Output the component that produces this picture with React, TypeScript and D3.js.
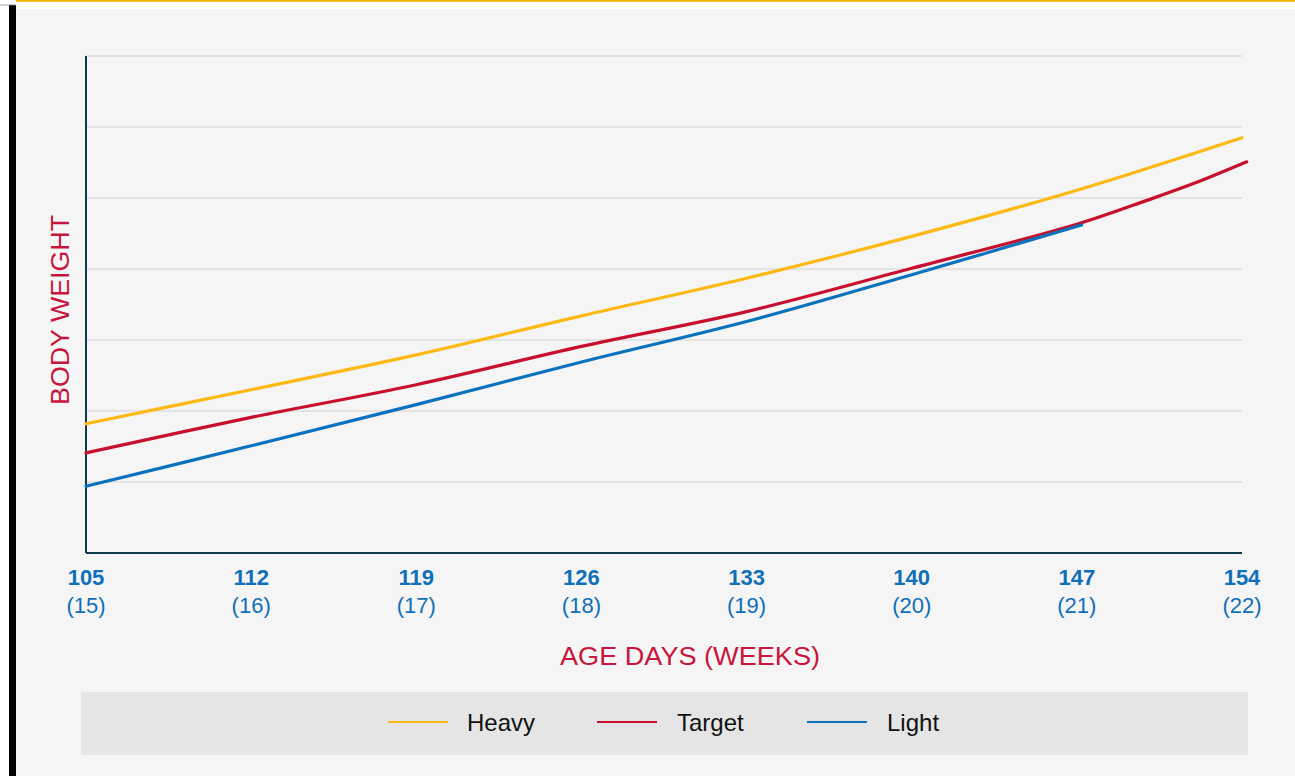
import React from "react";
import * as d3 from "d3";

const dayTicks = [105, 112, 119, 126, 133, 140, 147, 154];
const weekTicks = ["(15)", "(16)", "(17)", "(18)", "(19)", "(20)", "(21)", "(22)"];
const gridLevels = [0, 1, 2, 3, 4, 5, 6, 7];

const heavyDays = [105, 112, 119, 126, 133, 140, 147, 154];
const heavyValues = [1.82, 2.3, 2.79, 3.34, 3.87, 4.46, 5.11, 5.85];

const targetDays = [105, 112, 119, 126, 133, 140, 147, 150, 152, 154.2];
const targetValues = [1.41, 1.91, 2.37, 2.91, 3.4, 4.01, 4.63, 4.97, 5.21, 5.51];

const lightDays = [105, 112, 119, 126, 133, 140, 147.2];
const lightValues = [0.94, 1.51, 2.09, 2.69, 3.26, 3.92, 4.62];

const seriesNames = ["Heavy", "Target", "Light"];
const seriesColors = ["#fdb913", "#c8102e", "#0a72bc"];

export default function App() {
  const W = 1295;
  const H = 776;
  const x = d3.scaleLinear().domain([105, 154]).range([86, 1242]);
  const y = d3.scaleLinear().domain([0, 7]).range([553, 56]);
  const line = d3
    .line<[number, number]>()
    .x((d) => x(d[0]))
    .y((d) => y(d[1]))
    .curve(d3.curveCatmullRom.alpha(0.5));

  const series = [
    { days: heavyDays, vals: heavyValues },
    { days: targetDays, vals: targetValues },
    { days: lightDays, vals: lightValues },
  ];

  const legendLineX = [388, 597, 807];
  const legendTextX = [467, 677, 887];

  return (
    <svg
      width={W}
      height={H}
      style={{ position: "absolute", left: 0, top: 0, display: "block" }}
      fontFamily="'Liberation Sans', Arial, sans-serif"
    >
      <rect x={0} y={0} width={W} height={H} fill="#ffffff" />
      <rect x={16} y={9} width={W - 16} height={H - 9} fill="#f5f5f5" />
      <rect x={16} y={0} width={W - 16} height={1.8} fill="#f5b400" />
      <rect x={9} y={5} width={7} height={H - 5} fill="#000000" />
      <line x1={0} x2={16} y1={5} y2={5} stroke="#888" strokeWidth={0.8} />

      {gridLevels.slice(1).map((g) => (
        <line
          key={g}
          x1={x(105)}
          x2={x(154)}
          y1={y(g)}
          y2={y(g)}
          stroke="#dddddd"
          strokeWidth={1.5}
        />
      ))}

      <line x1={x(105)} x2={x(105)} y1={y(7)} y2={y(0)} stroke="#0d3a4a" strokeWidth={2} />
      <line x1={x(105)} x2={x(154)} y1={y(0)} y2={y(0)} stroke="#0d3a4a" strokeWidth={2} />

      {series.map((s, i) => (
        <path
          key={i}
          d={line(s.days.map((d, j) => [d, s.vals[j]] as [number, number])) || ""}
          fill="none"
          stroke={seriesColors[i]}
          strokeWidth={3.2}
          strokeLinecap="round"
        />
      ))}

      {dayTicks.map((d, i) => (
        <g key={d} transform={`translate(${x(d)},0)`} fill="#0f6fb8" textAnchor="middle">
          <text y={585} fontSize={22} fontWeight="bold">
            {d}
          </text>
          <text y={613} fontSize={22}>
            {weekTicks[i]}
          </text>
        </g>
      ))}

      <text
        x={690}
        y={665}
        textAnchor="middle"
        fontSize={25}
        fill="#c8153c"
        textLength={260}
        lengthAdjust="spacingAndGlyphs"
      >
        AGE DAYS (WEEKS)
      </text>
      <text
        transform="translate(69,310) rotate(-90)"
        textAnchor="middle"
        fontSize={25}
        fill="#c8153c"
        textLength={190}
        lengthAdjust="spacingAndGlyphs"
      >
        BODY WEIGHT
      </text>

      <rect x={81} y={692} width={1167} height={63} fill="#e5e5e5" />
      {seriesNames.map((n, i) => (
        <g key={n}>
          <line
            x1={legendLineX[i]}
            x2={legendLineX[i] + 60}
            y1={722}
            y2={722}
            stroke={seriesColors[i]}
            strokeWidth={2}
          />
          <text x={legendTextX[i]} y={731} fontSize={24} fill="#111">
            {n}
          </text>
        </g>
      ))}
    </svg>
  );
}
